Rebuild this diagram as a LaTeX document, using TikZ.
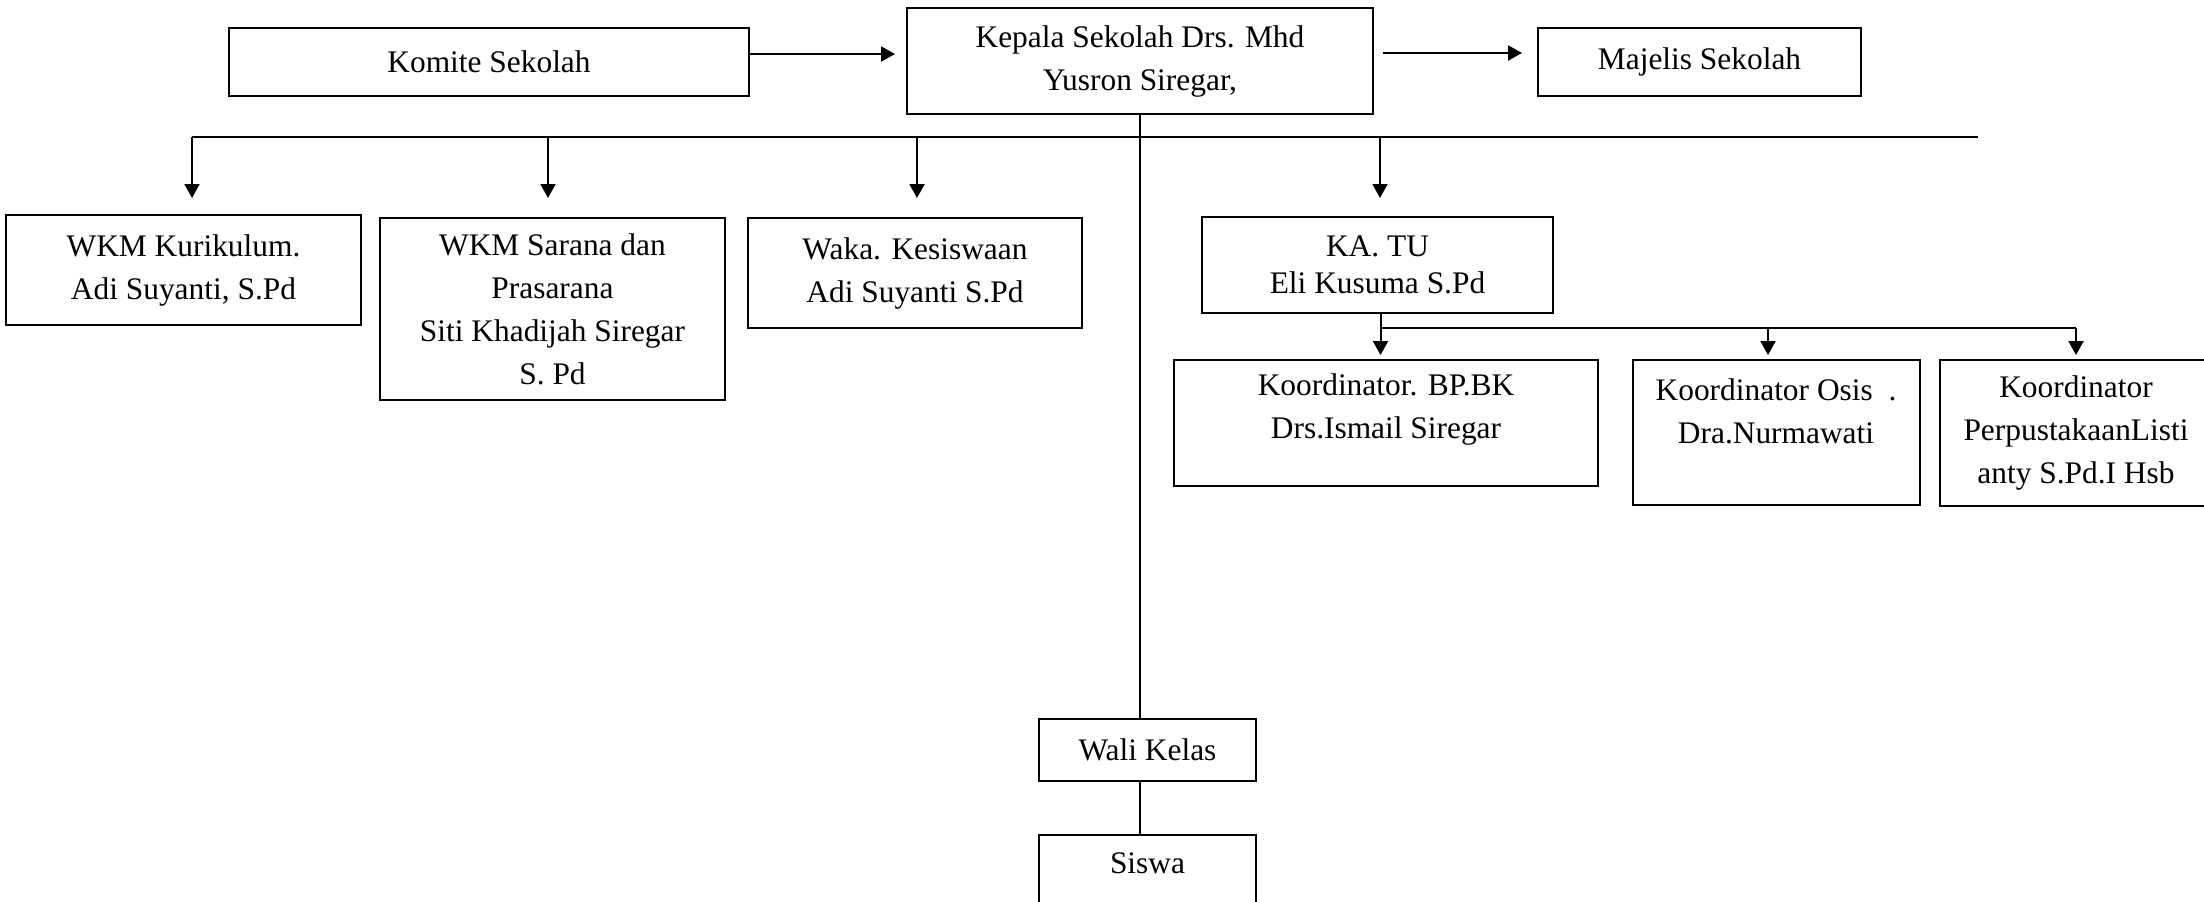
\documentclass[tikz,border=0pt]{standalone}
\usepackage{fontspec}
\setmainfont{Liberation Serif}
\usetikzlibrary{arrows.meta,calc}
\begin{document}
\begin{tikzpicture}[x=0.5pt,y=-0.5pt,
  box/.style={draw, line width=1pt, rectangle, inner sep=0pt, align=center,
    font=\fontsize{15.7}{21.5}\selectfont},
  conn/.style={line width=1pt},
  arr/.style={line width=1pt, -{Triangle[width=7.5pt,length=7pt]}}]
\clip (0,0) rectangle (2204,901);
\fill[white] (0,0) rectangle (2204,901);
% top row
\node[box, minimum width=260pt, minimum height=34pt] (komite) at (489,62) {Komite Sekolah};
\node[box, minimum width=233pt, minimum height=53pt] (kepala) at (1140,61) {Kepala Sekolah Drs. Mhd\\Yusron Siregar,};
\node[box, minimum width=161.5pt, minimum height=34pt] (majelis) at (1699.5,62) {Majelis Sekolah};
% second row
\node[box, minimum width=177.5pt, minimum height=55pt] (kurik) at (183.5,270) {WKM Kurikulum.\\Adi Suyanti, S.Pd};
\node[box, minimum width=172.5pt, minimum height=91pt] (sarana) at (552.5,309) {WKM Sarana dan\\Prasarana\\Siti Khadijah Siregar\\S. Pd};
\node[box, minimum width=167pt, minimum height=55pt] (waka) at (915,273) {Waka. Kesiswaan\\Adi Suyanti S.Pd};
\node[box, minimum width=175.5pt, minimum height=48pt, font=\fontsize{15.7}{18.5}\selectfont] (katu) at (1377.5,265) {KA. TU\\Eli Kusuma S.Pd};
% third row
\node[box, minimum width=212pt, minimum height=63pt] (bpbk) at (1386,423) {Koordinator. BP.BK\\Drs.Ismail Siregar\\[-5pt]\mbox{}};
\node[box, minimum width=143.5pt, minimum height=72.5pt] (osis) at (1776,432.5) {Koordinator Osis~~.\\Dra.Nurmawati\\\mbox{}};
\node[box, minimum width=136pt, minimum height=73pt] (perpus) at (2076,433) {Koordinator\\PerpustakaanListi\\anty S.Pd.I Hsb};
% bottom
\node[box, minimum width=108.5pt, minimum height=31pt] (wali) at (1147.5,750) {Wali Kelas};
\node[box, minimum width=108.5pt, minimum height=50pt] (siswa) at (1147.5,885) {Siswa\\\mbox{}};
% top arrows
\draw[arr] ($(komite.east)+(0,-8)$) -- ($(komite.east -| kepala.west)+(-11,-8)$);
\draw[arr] ($(kepala.east)+(9,-8)$) -- ($(kepala.east -| majelis.west)+(-15,-8)$);
% bus
\coordinate (busL) at (192,137);
\coordinate (busR) at (1978,137);
\coordinate (tKur) at ($(kurik.north)+(8.5,-16)$);
\coordinate (tSar) at ($(sarana.north)+(-4.5,-19)$);
\coordinate (tWak) at ($(waka.north)+(2,-19)$);
\coordinate (tKat) at ($(katu.north)+(2.5,-18)$);
\draw[conn] (busL) -- (busR);
\draw[conn] (kepala.south) -- (kepala.south |- wali.north);
\draw[arr] (tKur |- busL) -- (tKur);
\draw[arr] (tSar |- busL) -- (tSar);
\draw[arr] (tWak |- busL) -- (tWak);
\draw[arr] (tKat |- busL) -- (tKat);
% KA TU branch
\coordinate (br) at ($(katu.south)+(3,14)$);
\coordinate (tBp) at ($(bpbk.north -| br)+(0,-4)$);
\coordinate (tOs) at ($(osis.north)+(-8,-4)$);
\coordinate (tPe) at ($(perpus.north)+(0,-4)$);
\draw[conn] (br) -- (br -| tPe);
\draw[arr] (katu.south -| br) -- (tBp);
\draw[arr] (tOs |- br) -- (tOs);
\draw[arr] (tPe |- br) -- (tPe);
% wali to siswa
\draw[conn] (wali.south -| kepala.south) -- (siswa.north -| kepala.south);
\end{tikzpicture}
\end{document}
